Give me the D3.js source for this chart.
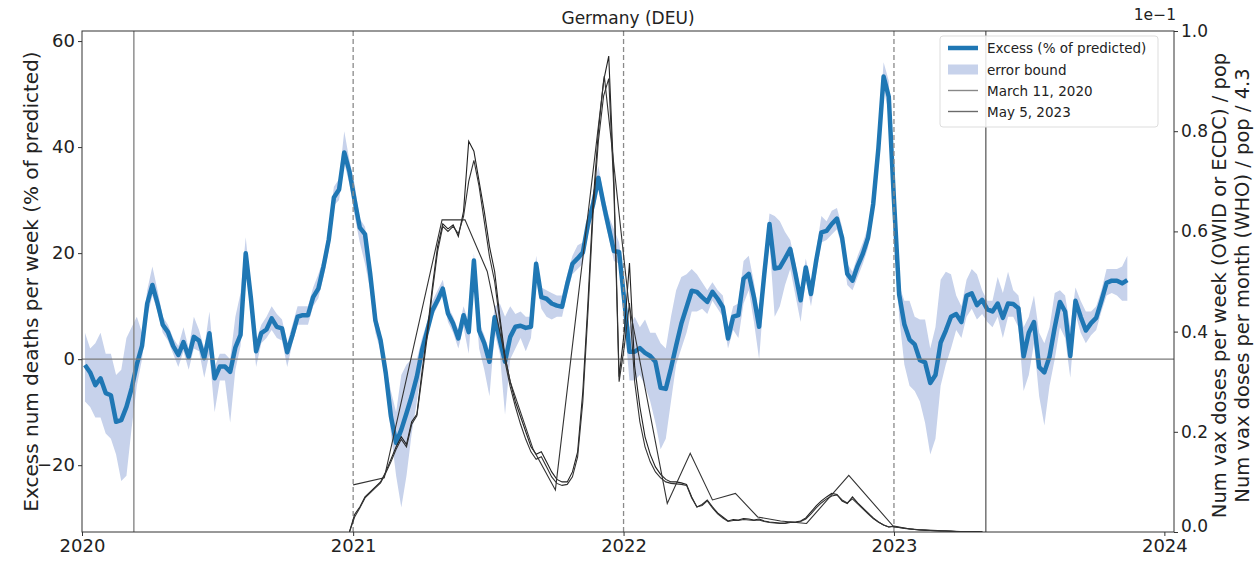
<!DOCTYPE html>
<html><head><meta charset="utf-8">
<script src="https://cdn.jsdelivr.net/npm/d3@7/dist/d3.min.js"></script>
<style>body{margin:0;background:#fff}svg{display:block;font-family:"DejaVu Sans",sans-serif}</style>
</head><body><svg id="c" width="1257" height="561"></svg>
<script>
// ---------- DATA ----------
const title = "Germany (DEU)";
const excessStart = "2020-01-05"; // first weekly point, one value per week
const excess = [-1.1,-2.5,-4.9,-3.6,-6.4,-6.8,-11.8,-11.5,-9,-5.5,-1,2.5,10.5,14,10.5,6.5,5.1,2.5,0.8,3.2,0.4,4.2,3.5,0.2,4.9,-3.6,-1.4,-1.4,-2.4,2.2,4.6,20,11.5,1.5,4.9,5.6,7.7,6.1,5.8,1.3,4.5,8,8.3,8.3,11.7,13.3,17.5,22.5,30.5,32,39,35.4,30,24.8,23.6,16.1,7.3,3.6,-2.6,-10.8,-15.8,-13.3,-10.2,-7,-3.3,1.7,5.4,9.2,11.1,13.3,8.6,6.7,3.9,8.3,5.1,18.6,5.4,3,-0.5,7.9,3.6,-0.5,4.2,6.1,6.3,5.9,6.1,18,11.7,11.4,10.5,10.1,9.9,14.2,18,19,20.1,25.5,29.3,34.2,29.3,24.8,20.4,20.2,11,1.4,1.4,2.1,1.2,0.6,-0.5,-5.4,-5.6,-1.7,2.6,6.7,9.8,12.9,12.7,11.7,10.8,12.7,11.4,9.8,3.9,8,8.3,15.2,16.1,11.7,6.1,16.1,25.5,17.1,17.3,19,20.8,16.1,11.1,17.3,12.3,18.6,23.9,24.2,25.5,26.5,22.9,16.1,14.8,17.6,19.9,22.9,29.3,39.8,53.3,49.5,30,12.2,6.6,3.7,2.8,-0.2,-0.6,-4.5,-3,3.1,5.4,8,8.5,7,12,12.4,10.2,11.2,9.4,9,10.5,7.8,10.5,10.4,9.6,0.5,5,7,-1.5,-2.5,0.5,6,10.8,9,0.6,11,8,5.4,6.8,7.8,11,14.4,14.8,14.8,14.3,14.9];
const errLower = [-8,-9,-11,-11,-14,-15,-18,-23,-22,-13,-5,0,8,12,9,5,3.5,1,-1.5,1.5,-2,2,1.5,-3.5,1,-10,-4,-4,-12,-2,2.5,17,9,-1.5,3,4,5.5,4,3.5,-1.5,3,6.5,6.5,6.5,10,11.5,15.5,20.5,29,30,37,33,27,22,18,13,5,1.5,-5,-14,-22,-28,-22,-14,-8,-1,4,8,10,12,7,5,2,6,1,15,2,-2,-7,5,1,-10.5,0,2,4,1.5,4,15,9.5,8,7.5,8,8,12.5,16,17,18,23.5,27.5,32,27,23,18.5,18,7,-4,-4,-3,-5,-8,-12,-17,-15,-8,-1,2,5,9,9,9.5,8.5,11,9.5,8,2,5.5,4,10.5,13,7,0,13,22,8,10,14,17,12,7,15,10,16,22,22.5,23.5,24.5,21,14,13,15.5,18,21,27.5,37.5,51,46.5,27,8,-1,-5,-6,-8,-12,-18,-15,-5,-1,2,5.5,4,8,9.5,7.5,8.5,7,6,8,4,8,8,6,-6,-3,3,-7,-12.5,-5,0,6,4,-3.5,8.5,5,3,4.5,5.5,9,12,12.5,12,11,11];
const errUpper = [5,2,3,5,1,1,-3,-2,4,6,8,5,13,17.5,13,8,6.5,4,2.5,6,2,8,5.5,2,9,-1.5,1,1,0,8,12.5,23,13.5,3.5,6.5,8,10,8.5,7.5,3,6.5,10,10,10,13.5,16,19,24.5,32.5,34,43,37.5,33,26.5,25,18,9,5,-1,-6,-10,-3,-1,0,0,4,7,11,13,15,10,8,5.5,10,7,20,7,4.5,1.5,10,10.5,8,10,8.5,9,8,8,19.5,13.5,13,12.5,12,12,16,19.5,21.5,22,27,31.5,36.5,31,27,24.5,22,14,6,8,6,7.5,5,5,3,2,8,13,15.5,16,17,16,14.5,13,14.5,13,12,6,10,10.5,18.5,19.5,14.5,8,18.5,27.5,27,26,24,22.5,18,13,19,14,20.5,27,26,28,28.5,25,18,16.5,19.5,22,25,31.5,42,56,52.5,33,14,11,11,8,7.5,7.5,2,6,15,16.5,16,12,10,15,17,16,13,11,11,15.5,12.5,16.5,13,12,6,8,12,5,3,6,12.5,13,12,6,13.5,11,9,9,10,13,17,17,17,17.5,19.5];

// vaccination doses (right axis, values shown in units of 1e-1)
const vaxWeeklyStart = "2020-12-27";
const vaxOwid = [0,0.035,0.05,0.07,0.08,0.09,0.1,0.12,0.145,0.17,0.19,0.175,0.22,0.235,0.32,0.4,0.49,0.57,0.615,0.605,0.613,0.59,0.64,0.78,0.76,0.7,0.64,0.57,0.52,0.43,0.35,0.3,0.26,0.23,0.2,0.17,0.155,0.16,0.14,0.12,0.105,0.1,0.1,0.12,0.16,0.28,0.46,0.66,0.8,0.9,0.95,0.7,0.31,0.4,0.537,0.33,0.25,0.19,0.155,0.13,0.115,0.105,0.1,0.1,0.098,0.095,0.07,0.05,0.055,0.064,0.05,0.038,0.03,0.022,0.025,0.024,0.027,0.026,0.024,0.026,0.022,0.02,0.019,0.018,0.018,0.02,0.02,0.022,0.028,0.04,0.052,0.062,0.07,0.077,0.075,0.062,0.057,0.07,0.058,0.048,0.038,0.028,0.02,0.014,0.01,0.012,0.01,0.008,0.006,0.005,0.004,0.004,0.003,0.003,0.002,0.002,0.002,0.001,0.001,0.001,0.001,0.001,0.0005];
const vaxEcdc = [0,0.03,0.048,0.068,0.078,0.088,0.098,0.118,0.14,0.165,0.185,0.17,0.215,0.232,0.31,0.39,0.48,0.56,0.61,0.6,0.61,0.595,0.63,0.7,0.742,0.69,0.62,0.55,0.5,0.42,0.34,0.29,0.25,0.215,0.185,0.16,0.145,0.15,0.13,0.11,0.097,0.093,0.095,0.11,0.15,0.26,0.44,0.64,0.78,0.87,0.905,0.68,0.3,0.37,0.457,0.3,0.22,0.17,0.14,0.12,0.108,0.1,0.097,0.096,0.095,0.093,0.068,0.05,0.053,0.062,0.048,0.036,0.028,0.021,0.023,0.023,0.025,0.024,0.023,0.024,0.021,0.019,0.018,0.017,0.017,0.019,0.019,0.021,0.026,0.036,0.048,0.058,0.066,0.072,0.074,0.064,0.058,0.066,0.056,0.046,0.036,0.027,0.02,0.014,0.01,0.011,0.009,0.007,0.006,0.005,0.004,0.003,0.003,0.002,0.002,0.002,0.001,0.001,0.001,0.001,0.001,0.0005,0.0005];
const vaxWhoDates = ["2021-01-01","2021-02-12","2021-05-01","2021-06-01","2021-07-01","2021-08-01","2021-09-01","2021-10-01","2021-12-06","2022-01-08","2022-03-01","2022-04-01","2022-05-01","2022-06-01","2022-07-01","2022-08-01","2022-09-05","2022-11-01","2023-01-01","2023-02-01","2023-03-01","2023-04-01","2023-05-01"];
const vaxWho = [0.094,0.108,0.623,0.623,0.52,0.3,0.165,0.084,0.91,0.457,0.057,0.157,0.064,0.077,0.03,0.022,0.017,0.113,0.01,0.005,0.003,0.001,0];

const markerDates = ["2020-03-11","2023-05-05"];
const yearLines = ["2021-01-01","2022-01-01","2023-01-01"];
const xTicks = ["2020-01-01","2021-01-01","2022-01-01","2023-01-01","2024-01-01"];
const xTickLabels = ["2020","2021","2022","2023","2024"];
const yLeftTicks = [-20,0,20,40,60];
const yRightTicks = [0,0.2,0.4,0.6,0.8,1.0];
const legendLabels = ["Excess (% of predicted)","error bound","March 11, 2020","May 5, 2023"];

// ---------- CHART ----------
const P = d3.utcParse("%Y-%m-%d");
const L = 82, R = 1174, T = 31, B = 532;
const svg = d3.select("#c");
const x = d3.scaleUtc().domain([P("2020-01-01"), P("2024-01-14")]).range([L, R]);
const y = d3.scaleLinear().domain([-32.6, 61.9]).range([B, T]);
const y2 = d3.scaleLinear().domain([0, 1]).range([B, T]);

const exDates = excess.map((_, i) => d3.utcDay.offset(P(excessStart), 7 * i));
const vxDates = n => d3.range(n).map(i => d3.utcDay.offset(P(vaxWeeklyStart), 7 * i));

const blue = "#1f77b4", band = "#c7d2eb";

svg.append("clipPath").attr("id", "clip").append("rect").attr("x", L).attr("y", T).attr("width", R - L).attr("height", B - T);
const g = svg.append("g").attr("clip-path", "url(#clip)");

g.append("path").datum(excess.map((v, i) => i))
  .attr("fill", band)
  .attr("d", d3.area().x(i => x(exDates[i])).y0(i => y(errLower[i])).y1(i => y(errUpper[i])));

g.append("path").datum(excess.map((v, i) => [exDates[i], v]))
  .attr("fill", "none").attr("stroke", blue).attr("stroke-width", 4.5).attr("stroke-linejoin", "round")
  .attr("d", d3.line().x(d => x(d[0])).y(d => y(d[1])));

yearLines.forEach(d => g.append("line").attr("x1", x(P(d))).attr("x2", x(P(d))).attr("y1", T).attr("y2", B)
  .attr("stroke", "#8a8a8a").attr("stroke-width", 1.3).attr("stroke-dasharray", "5,3"));
const markerColors = ["#888888", "#6a6a6a"];
markerDates.forEach((d, k) => g.append("line").attr("x1", x(P(d))).attr("x2", x(P(d))).attr("y1", T).attr("y2", B)
  .attr("stroke", markerColors[k]).attr("stroke-width", 1.4));
g.append("line").attr("x1", L).attr("x2", R).attr("y1", y(0)).attr("y2", y(0)).attr("stroke", "#7a7a7a").attr("stroke-width", 1.3);

const vline = d3.line().x(d => x(d[0])).y(d => y2(d[1]));
const owidD = vxDates(vaxOwid.length), ecdcD = vxDates(vaxEcdc.length);
g.append("path").datum(vaxOwid.map((v, i) => [owidD[i], v])).attr("fill", "none").attr("stroke", "#222").attr("stroke-width", 1.1).attr("d", vline);
g.append("path").datum(vaxEcdc.map((v, i) => [ecdcD[i], v])).attr("fill", "none").attr("stroke", "#333").attr("stroke-width", 1.1).attr("d", vline);
g.append("path").datum(vaxWho.map((v, i) => [P(vaxWhoDates[i]), v])).attr("fill", "none").attr("stroke", "#333").attr("stroke-width", 1.1).attr("d", vline);

svg.append("rect").attr("x", L).attr("y", T).attr("width", R - L).attr("height", B - T).attr("fill", "none").attr("stroke", "#333").attr("stroke-width", 1);

const fs = 18;
const ax = svg.append("g").attr("transform", `translate(0,${B})`)
  .call(d3.axisBottom(x).tickValues(xTicks.map(P)).tickFormat((d, i) => xTickLabels[i]).tickSize(4).tickPadding(3));
const ayl = svg.append("g").attr("transform", `translate(${L},0)`)
  .call(d3.axisLeft(y).tickValues(yLeftTicks).tickFormat(d => d < 0 ? "\u2212" + Math.abs(d) : d).tickSize(4).tickPadding(3));
const ayr = svg.append("g").attr("transform", `translate(${R},0)`)
  .call(d3.axisRight(y2).tickValues(yRightTicks).tickFormat(d3.format(".1f")).tickSize(4).tickPadding(3));
[ax, ayl, ayr].forEach(a => {
  a.select(".domain").remove();
  a.selectAll("text").attr("font-size", fs).attr("fill", "#222").attr("font-family", "DejaVu Sans");
  a.selectAll("line").attr("stroke", "#333");
});
ayr.selectAll("text").attr("font-size", 17);
// keep the bottom right-axis label clear of the "2024" label
ayr.selectAll(".tick").filter(d => d === 0).select("text").attr("dy", "-0.05em");

svg.append("text").attr("x", (L + R) / 2).attr("y", 24).attr("text-anchor", "middle").attr("font-size", 17).attr("fill", "#222").text(title);
svg.append("text").attr("transform", `translate(38,${(T + B) / 2}) rotate(-90)`).attr("text-anchor", "middle")
  .attr("font-size", 20).attr("fill", "#222").text("Excess num deaths per week (% of predicted)");
const rl = svg.append("text").attr("transform", `translate(1226,${(T + B) / 2 + 4}) rotate(-90)`).attr("text-anchor", "middle")
  .attr("font-size", 19.5).attr("fill", "#222");
rl.append("tspan").attr("x", 0).attr("dy", 0).text("Num vax doses per week (OWID or ECDC) / pop");
rl.append("tspan").attr("x", 0).attr("dy", 23).text("Num vax doses per month (WHO) / pop / 4.3");
svg.append("text").attr("x", 1176).attr("y", 20).attr("text-anchor", "end").attr("font-size", 15.5).attr("fill", "#222").text("1e\u22121");

const lg = svg.append("g").attr("transform", "translate(940,36)");
lg.append("rect").attr("width", 218).attr("height", 91).attr("rx", 3).attr("fill", "#fff").attr("fill-opacity", 0.85).attr("stroke", "#ddd");
const rowsY = [12, 33.5, 54.5, 75.5];
lg.append("line").attr("x1", 8).attr("x2", 38).attr("y1", rowsY[0]).attr("y2", rowsY[0]).attr("stroke", blue).attr("stroke-width", 4.5);
lg.append("rect").attr("x", 8).attr("y", rowsY[1] - 5).attr("width", 30).attr("height", 10).attr("fill", band);
lg.append("line").attr("x1", 8).attr("x2", 38).attr("y1", rowsY[2]).attr("y2", rowsY[2]).attr("stroke", markerColors[0]).attr("stroke-width", 1.4);
lg.append("line").attr("x1", 8).attr("x2", 38).attr("y1", rowsY[3]).attr("y2", rowsY[3]).attr("stroke", markerColors[1]).attr("stroke-width", 1.4);
legendLabels.forEach((t, i) => lg.append("text").attr("x", 47).attr("y", rowsY[i] + 5).attr("font-size", 13.5).attr("fill", "#222").text(t));
</script></body></html>
